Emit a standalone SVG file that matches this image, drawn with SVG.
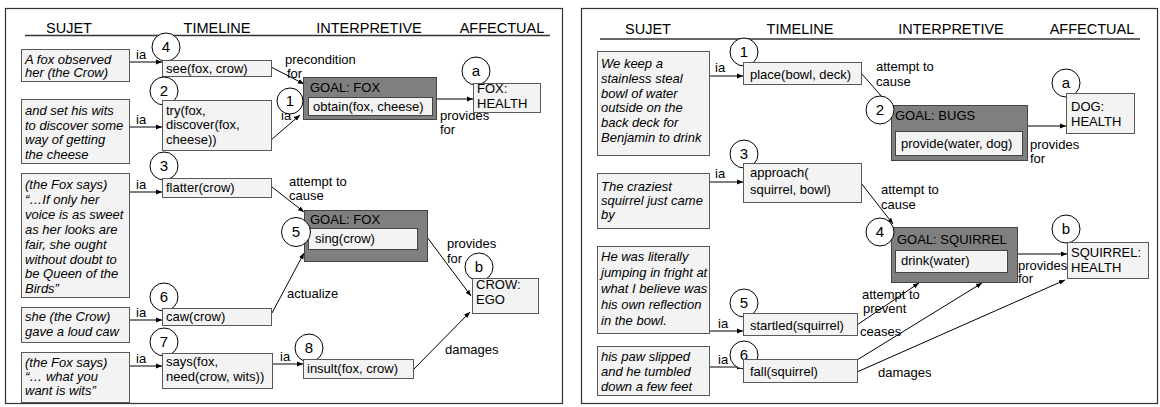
<svg xmlns="http://www.w3.org/2000/svg" width="1160" height="407" viewBox="0 0 1160 407">
<defs>
<marker id="ah" viewBox="0 0 10 10" refX="10" refY="5" markerWidth="6" markerHeight="6" orient="auto" markerUnits="userSpaceOnUse">
<path d="M0,1 L10,5 L0,9 z" fill="#000"/>
</marker>
<style>
text{font-family:"Liberation Sans",Arial,sans-serif;font-size:13px;fill:#000}
.hd{font-size:14.5px;text-anchor:middle}
.it{font-style:italic}
.ctr{text-anchor:middle;font-size:15px}
.box{fill:#f3f3f3;stroke:#595959;stroke-width:1}
.goal{fill:#7f7f7f;stroke:#434343;stroke-width:1}
.inner{fill:#f3f3f3;stroke:#434343;stroke-width:1}
.circ{fill:#fff;stroke:#000;stroke-width:1}
.panel{fill:#fff;stroke:#333;stroke-width:1.2}
.hl{stroke:#333;stroke-width:1.5}
.con line{stroke:#000;stroke-width:1;marker-end:url(#ah)}
</style>
</defs>
<rect width="1160" height="407" fill="#fff"/>
<rect class="panel" x="5.5" y="8.5" width="557" height="395"/>
<rect class="panel" x="581.5" y="8.5" width="576" height="395"/>
<g id="headers">
<text class="hd" x="69" y="33">SUJET</text>
<text class="hd" x="217" y="33">TIMELINE</text>
<text class="hd" x="369" y="33">INTERPRETIVE</text>
<text class="hd" x="502" y="33">AFFECTUAL</text>
<line class="hl" x1="25" y1="35.5" x2="550" y2="35.5"/>
<text class="hd" x="648" y="34">SUJET</text>
<text class="hd" x="800" y="34">TIMELINE</text>
<text class="hd" x="951" y="34">INTERPRETIVE</text>
<text class="hd" x="1092" y="34">AFFECTUAL</text>
<line class="hl" x1="600" y1="39" x2="1140" y2="39"/>
</g>
<g id="connectors" class="con">
<line x1="129" y1="62" x2="162" y2="62"/>
<line x1="129" y1="127" x2="162" y2="127"/>
<line x1="129" y1="192" x2="162" y2="192"/>
<line x1="129" y1="320" x2="162" y2="320"/>
<line x1="129" y1="366" x2="162" y2="366"/>
<line x1="272" y1="364" x2="303" y2="364"/>
<line x1="271" y1="67" x2="304" y2="84"/>
<line x1="271" y1="140" x2="300" y2="115"/>
<line x1="436" y1="99" x2="473" y2="99"/>
<line x1="272" y1="187" x2="304" y2="212"/>
<line x1="272" y1="313" x2="304" y2="253"/>
<line x1="427" y1="237" x2="471" y2="296"/>
<line x1="413" y1="370" x2="470" y2="312"/>
<line x1="709" y1="76" x2="743" y2="76"/>
<line x1="709" y1="182" x2="743" y2="182"/>
<line x1="709" y1="331" x2="743" y2="331"/>
<line x1="709" y1="367" x2="743" y2="367"/>
<line x1="861" y1="73" x2="891" y2="107"/>
<line x1="1027" y1="126" x2="1066" y2="126"/>
<line x1="861" y1="183" x2="893" y2="224"/>
<line x1="1017" y1="254" x2="1067" y2="254"/>
<line x1="857" y1="325" x2="919" y2="283"/>
<line x1="857" y1="360" x2="982" y2="283"/>
<line x1="857" y1="372" x2="1065" y2="280"/>
<text x="136" y="59">ia</text>
<text x="136" y="124">ia</text>
<text x="136" y="189">ia</text>
<text x="136" y="317">ia</text>
<text x="136" y="363">ia</text>
<text x="280" y="361">ia</text>
<text x="285" y="64">precondition</text>
<text x="287" y="78">for</text>
<text x="281" y="120">ia</text>
<text x="440" y="120">provides</text>
<text x="440" y="134">for</text>
<text x="289" y="186">attempt to</text>
<text x="289" y="200">cause</text>
<text x="287" y="298">actualize</text>
<text x="447" y="248">provides</text>
<text x="447" y="263">for</text>
<text x="445" y="354">damages</text>
<text x="715" y="72">ia</text>
<text x="715" y="178">ia</text>
<text x="718" y="328">ia</text>
<text x="718" y="364">ia</text>
<text x="876" y="71">attempt to</text>
<text x="876" y="86">cause</text>
<text x="1030" y="149">provides</text>
<text x="1030" y="163">for</text>
<text x="881" y="194">attempt to</text>
<text x="881" y="209">cause</text>
<text x="1018" y="270">provides</text>
<text x="1018" y="283">for</text>
<text x="862" y="299">attempt to</text>
<text x="863" y="313">prevent</text>
<text x="860" y="336">ceases</text>
<text x="878" y="377">damages</text>
</g>
<g id="s1"><rect class="box" x="21.5" y="49.5" width="108" height="32"/>
<text class="it" x="25" y="64">A fox observed</text><text class="it" x="25" y="77">her (the Crow)</text></g>
<g id="s2"><rect class="box" x="21.5" y="99.5" width="108" height="64"/>
<text class="it" x="25" y="115">and set his wits</text><text class="it" x="25" y="129.5">to discover some</text><text class="it" x="25" y="144">way of getting</text><text class="it" x="25" y="158.5">the cheese</text></g>
<g id="s3"><rect class="box" x="21.5" y="173.5" width="108" height="124"/>
<text class="it" x="25" y="189">(the Fox says)</text><text class="it" x="25" y="203.9">“…If only her</text><text class="it" x="25" y="218.8">voice is as sweet</text><text class="it" x="25" y="233.7">as her looks are</text><text class="it" x="25" y="248.6">fair, she ought</text><text class="it" x="25" y="263.5">without doubt to</text><text class="it" x="25" y="278.4">be Queen of the</text><text class="it" x="25" y="293.3">Birds”</text></g>
<g id="s4"><rect class="box" x="21.5" y="307.5" width="108" height="35"/>
<text class="it" x="25" y="321">she (the Crow)</text><text class="it" x="25" y="336">gave a loud caw</text></g>
<g id="s5"><rect class="box" x="21.5" y="352.5" width="108" height="50"/>
<text class="it" x="25" y="367">(the Fox says)</text><text class="it" x="25" y="381">“… what you</text><text class="it" x="25" y="395">want is wits”</text></g>
<g id="t4"><circle class="circ" cx="166" cy="47" r="14"/><text class="ctr" x="166" y="52">4</text>
<rect class="box" x="162.5" y="60.5" width="109" height="16"/><text x="166" y="73">see(fox, crow)</text></g>
<g id="t2"><circle class="circ" cx="164" cy="91" r="14"/><text class="ctr" x="164" y="96">2</text>
<rect class="box" x="162.5" y="100.5" width="109" height="50"/><text x="166" y="114.5">try(fox,</text><text x="166" y="129">discover(fox,</text><text x="166" y="144">cheese))</text></g>
<g id="t3"><circle class="circ" cx="164" cy="166" r="14"/><text class="ctr" x="164" y="171">3</text>
<rect class="box" x="162.5" y="178.5" width="109" height="19"/><text x="166" y="192">flatter(crow)</text></g>
<g id="t6"><circle class="circ" cx="164" cy="297" r="14"/><text class="ctr" x="164" y="302">6</text>
<rect class="box" x="162.5" y="308.5" width="109" height="17"/><text x="166" y="321">caw(crow)</text></g>
<g id="t7"><circle class="circ" cx="164" cy="342" r="14"/><text class="ctr" x="164" y="347">7</text>
<rect class="box" x="162.5" y="353.5" width="110" height="35"/><text x="166" y="366">says(fox,</text><text x="166" y="381">need(crow, wits))</text></g>
<g id="t8"><circle class="circ" cx="309" cy="348" r="14"/><text class="ctr" x="309" y="353">8</text>
<rect class="box" x="303.5" y="359.5" width="110" height="19"/><text x="307" y="373">insult(fox, crow)</text></g>
<g id="g1"><rect class="goal" x="303.5" y="77.5" width="133" height="42"/><text x="310" y="92">GOAL: FOX</text>
<rect class="inner" x="308.5" y="97.5" width="124" height="18"/><text x="313" y="111">obtain(fox, cheese)</text>
<circle class="circ" cx="290" cy="101" r="13"/><text class="ctr" x="290" y="106">1</text></g>
<g id="g5"><rect class="goal" x="304.5" y="210.5" width="123" height="51"/><text x="310" y="224">GOAL: FOX</text>
<rect class="inner" x="308.5" y="228.5" width="109" height="21"/><text x="315" y="243">sing(crow)</text>
<circle class="circ" cx="296" cy="232" r="14.5"/><text class="ctr" x="296" y="237">5</text></g>
<g id="a1"><circle class="circ" cx="476" cy="71" r="14"/><text class="ctr" x="476" y="76">a</text>
<rect class="box" x="473.5" y="83.5" width="67" height="29"/><text x="477" y="93">FOX:</text><text x="477" y="107.5">HEALTH</text></g>
<g id="b1"><circle class="circ" cx="479" cy="267" r="14"/><text class="ctr" x="479" y="272">b</text>
<rect class="box" x="472.5" y="278.5" width="66" height="35"/><text x="476" y="289">CROW:</text><text x="476" y="304">EGO</text></g>
<g id="rs1"><rect class="box" x="597.5" y="51.5" width="112" height="104"/>
<text class="it" x="601" y="68">We keep a</text><text class="it" x="601" y="82.8">stainless steal</text><text class="it" x="601" y="97.6">bowl of water</text><text class="it" x="601" y="112.4">outside on the</text><text class="it" x="601" y="127.2">back deck for</text><text class="it" x="601" y="142">Benjamin to drink</text></g>
<g id="rs2"><rect class="box" x="597.5" y="173.5" width="112" height="55"/>
<text class="it" x="601" y="191">The craziest</text><text class="it" x="601" y="205">squirrel just came</text><text class="it" x="601" y="219">by</text></g>
<g id="rs3"><rect class="box" x="597.5" y="246.5" width="112" height="87"/>
<text class="it" x="601" y="261">He was literally</text><text class="it" x="601" y="277">jumping in fright at</text><text class="it" x="601" y="293">what I believe was</text><text class="it" x="601" y="309">his own reflection</text><text class="it" x="601" y="325">in the bowl.</text></g>
<g id="rs4"><rect class="box" x="597.5" y="346.5" width="112" height="49"/>
<text class="it" x="601" y="361">his paw slipped</text><text class="it" x="601" y="376">and he tumbled</text><text class="it" x="601" y="391">down a few feet</text></g>
<g id="rt1"><circle class="circ" cx="744" cy="52" r="14"/><text class="ctr" x="744" y="57">1</text>
<rect class="box" x="743.5" y="62.5" width="118" height="22"/><text x="750" y="79">place(bowl, deck)</text></g>
<g id="rt3"><circle class="circ" cx="744" cy="154" r="14"/><text class="ctr" x="744" y="159">3</text>
<rect class="box" x="743.5" y="163.5" width="118" height="39"/><text x="750" y="177">approach(</text><text x="750" y="194">squirrel, bowl)</text></g>
<g id="rt5"><circle class="circ" cx="744" cy="303" r="14"/><text class="ctr" x="744" y="308">5</text>
<rect class="box" x="743.5" y="313.5" width="114" height="22"/><text x="750" y="330">startled(squirrel)</text></g>
<g id="rt6"><circle class="circ" cx="744" cy="355" r="14"/><text class="ctr" x="744" y="360">6</text>
<rect class="box" x="743.5" y="359.5" width="114" height="23"/><text x="750" y="376">fall(squirrel)</text></g>
<g id="rg2"><rect class="goal" x="891.5" y="105.5" width="136" height="55"/><text x="895" y="120">GOAL: BUGS</text>
<rect class="inner" x="895.5" y="131.5" width="127" height="24"/><text x="901" y="148">provide(water, dog)</text>
<circle class="circ" cx="880" cy="110" r="14"/><text class="ctr" x="880" y="115">2</text></g>
<g id="rg4"><rect class="goal" x="891.5" y="227.5" width="126" height="55"/><text x="897" y="244">GOAL: SQUIRREL</text>
<rect class="inner" x="895.5" y="250.5" width="112" height="22"/><text x="901" y="265">drink(water)</text>
<circle class="circ" cx="880" cy="232" r="14"/><text class="ctr" x="880" y="237">4</text></g>
<g id="ra"><circle class="circ" cx="1066" cy="83" r="14"/><text class="ctr" x="1066" y="88">a</text>
<rect class="box" x="1066.5" y="93.5" width="68" height="40"/><text x="1071" y="111">DOG:</text><text x="1071" y="126">HEALTH</text></g>
<g id="rb"><circle class="circ" cx="1066" cy="229" r="14"/><text class="ctr" x="1066" y="234">b</text>
<rect class="box" x="1067.5" y="242.5" width="81" height="36"/><text x="1071" y="257">SQUIRREL:</text><text x="1071" y="272">HEALTH</text></g>
</svg>
